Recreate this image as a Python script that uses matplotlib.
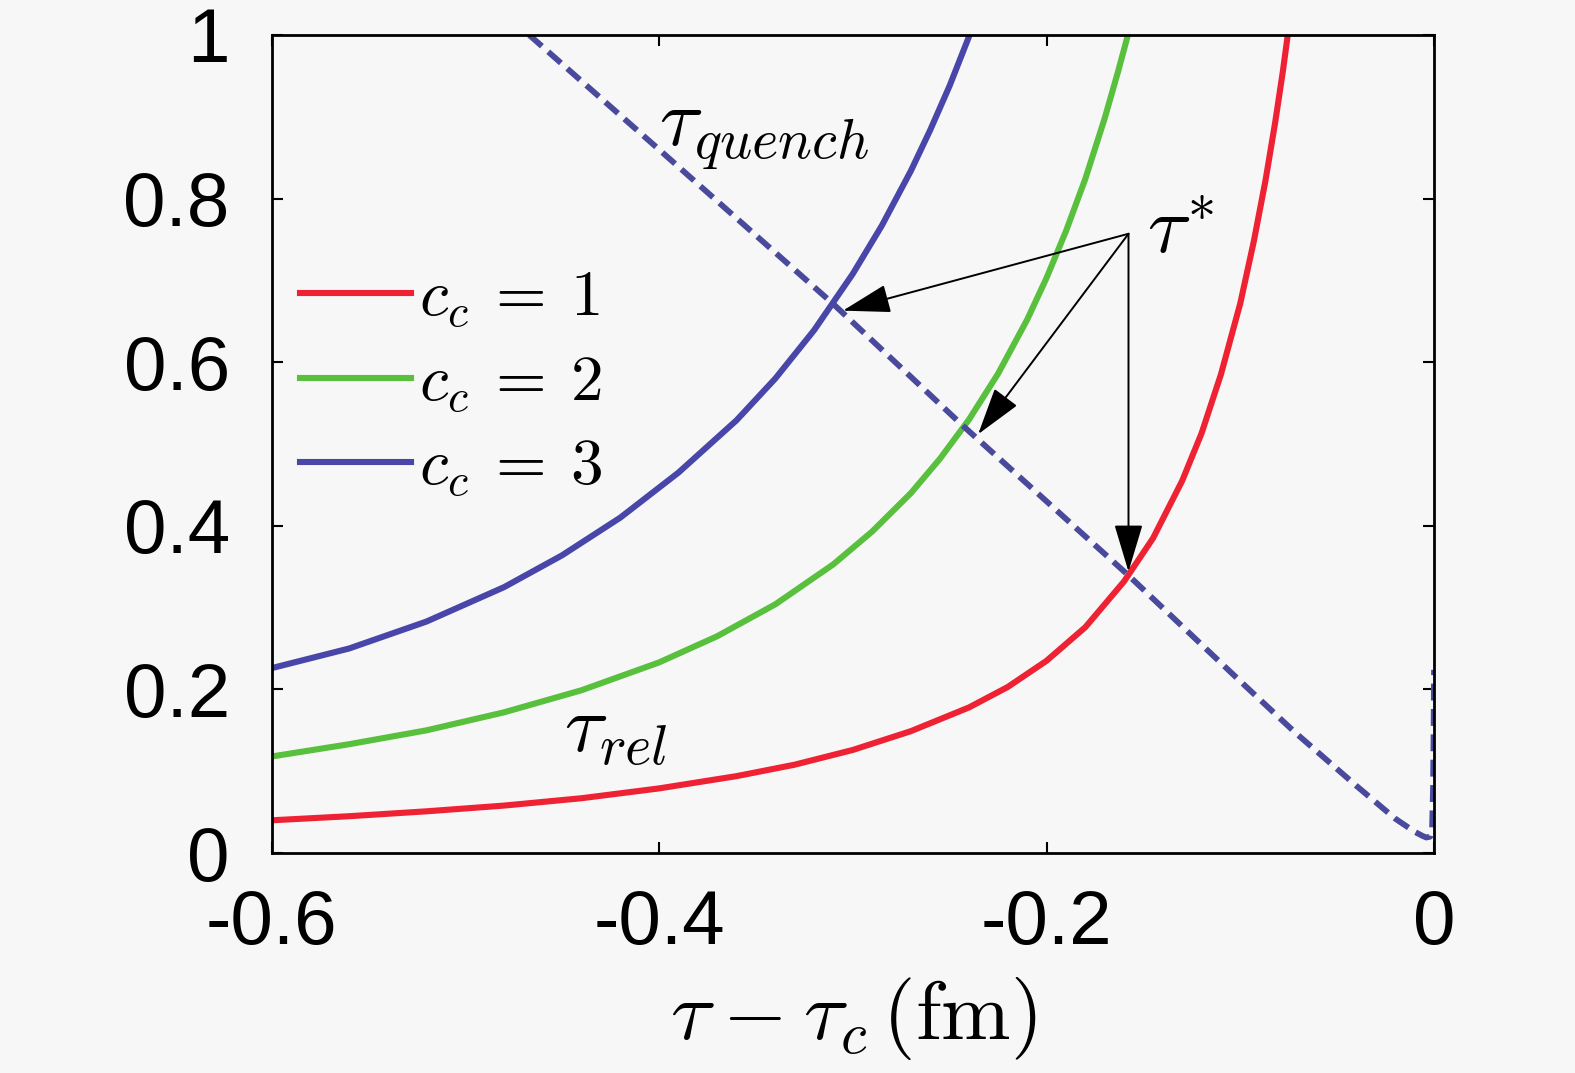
import matplotlib
matplotlib.use('Agg')
import matplotlib.pyplot as plt

# ---------------- data ----------------
red_x = [-0.600, -0.560, -0.520, -0.480, -0.440, -0.400, -0.360, -0.330, -0.300,
         -0.270, -0.240, -0.220, -0.200, -0.180, -0.160, -0.145, -0.130, -0.120,
         -0.110, -0.100, -0.093, -0.087, -0.082, -0.078, -0.0755]
red_y = [0.040, 0.045, 0.051, 0.058, 0.067, 0.079, 0.094, 0.108, 0.126,
         0.149, 0.178, 0.203, 0.235, 0.276, 0.332, 0.385, 0.455, 0.513,
         0.585, 0.672, 0.748, 0.822, 0.893, 0.956, 1.000]

green_x = [-0.600, -0.560, -0.520, -0.480, -0.440, -0.400, -0.370, -0.340, -0.310,
           -0.290, -0.270, -0.255, -0.240, -0.225, -0.210, -0.200, -0.190, -0.180,
           -0.170, -0.163, -0.158]
green_y = [0.118, 0.133, 0.150, 0.172, 0.199, 0.233, 0.265, 0.304, 0.353,
           0.393, 0.440, 0.482, 0.530, 0.586, 0.652, 0.703, 0.760, 0.824,
           0.898, 0.956, 1.000]

blue_x = [-0.600, -0.560, -0.520, -0.480, -0.450, -0.420, -0.390, -0.360, -0.340,
          -0.320, -0.300, -0.285, -0.270, -0.260, -0.250, -0.2397]
blue_y = [0.226, 0.250, 0.283, 0.325, 0.364, 0.410, 0.465, 0.529, 0.580,
          0.639, 0.708, 0.767, 0.834, 0.884, 0.938, 1.000]

quench_x = [-0.467, -0.400, -0.310, -0.243, -0.158, -0.100, -0.072, -0.040, -0.020,
            -0.010, -0.006, -0.004, -0.002, -0.001, -0.0005, -0.0002, 0.0]
quench_y = [1.000, 0.860, 0.671, 0.522, 0.340, 0.210, 0.148, 0.082, 0.042,
            0.026, 0.021, 0.019, 0.020, 0.030, 0.080, 0.150, 0.224]

series_labels = [r'$c_c\:=\:1$', r'$c_c\:=\:2$', r'$c_c\:=\:3$']
x_ticks = [-0.6, -0.4, -0.2, 0.0]
x_ticklabels = ['-0.6', '-0.4', '-0.2', '0']
y_ticks = [0, 0.2, 0.4, 0.6, 0.8, 1.0]
y_ticklabels = ['0', '0.2', '0.4', '0.6', '0.8', '1']

# annotation anchors (data coords)
arrow_start = (-0.1577, 0.757)
arrow_tips = [(-0.3051, 0.663), (-0.2353, 0.512), (-0.1577, 0.344)]

# ---------------- style ----------------
plt.rcParams['mathtext.fontset'] = 'cm'
plt.rcParams['axes.unicode_minus'] = False
plt.rcParams['font.family'] = ['Liberation Sans', 'DejaVu Sans']

bg = '#f7f7f7'
c_red = '#ee2233'
c_green = '#58c03c'
c_blue = '#4846a8'
c_dash = '#4a4a9c'

fig = plt.figure(figsize=(15.75, 10.73), dpi=100, facecolor=bg)
ax = fig.add_axes([0.1724, 0.2050, 0.7381, 0.7624], facecolor=bg)

lw = 4.4
ax.plot(red_x, red_y, color=c_red, lw=lw, label=series_labels[0])
ax.plot(green_x, green_y, color=c_green, lw=lw, label=series_labels[1])
ax.plot(blue_x, blue_y, color=c_blue, lw=lw, label=series_labels[2])
dash_line, = ax.plot(quench_x, quench_y, color=c_dash, lw=4.2, linestyle='--')
dash_line.set_dashes((2.9, 1.45))

for tip in arrow_tips:
    ax.annotate('', xy=tip, xytext=arrow_start,
                arrowprops=dict(arrowstyle='-|>,head_length=1.5,head_width=0.45',
                                mutation_scale=20, lw=1.4, color='black',
                                shrinkA=0, shrinkB=0), zorder=5)

ax.text(-0.400, 0.865, r'$\tau_{quench}$', fontsize=58, ha='left', va='baseline')
ax.text(-0.449, 0.124, r'$\tau_{rel}$', fontsize=58, ha='left', va='baseline')
ax.text(-0.1484, 0.734, r'$\tau^{*}$', fontsize=58, ha='left', va='baseline')

ax.set_xlim(-0.6, 0.0)
ax.set_ylim(0, 1)
ax.set_xticks(x_ticks)
ax.set_xticklabels(x_ticklabels)
ax.set_yticks(y_ticks)
ax.set_yticklabels(y_ticklabels)
ax.tick_params(direction='in', length=8, width=1.5, top=True, right=True,
               labelsize=55)
ax.tick_params(axis='x', pad=26)
ax.tick_params(axis='y', pad=30)
for s in ax.spines.values():
    s.set_linewidth(2.0)

ax.set_xlabel(r'$\tau\:-\:\tau_c\,(\mathrm{fm})$', fontsize=60, labelpad=11)

ax.legend(loc='upper left', bbox_to_anchor=(0.0245, 0.714), frameon=False,
          fontsize=47, handlelength=1.7, handletextpad=0.12, labelspacing=0.36,
          borderpad=0, borderaxespad=0)

fig.savefig('out.png', dpi=100, facecolor=bg)
